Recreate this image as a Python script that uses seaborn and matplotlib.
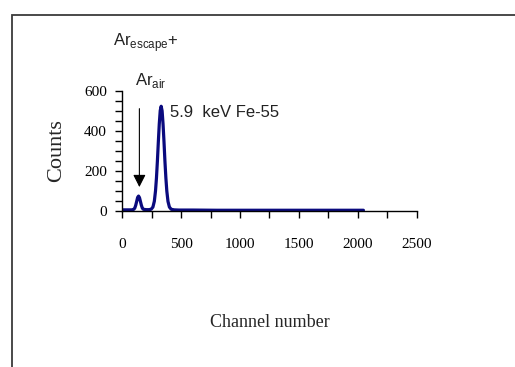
import matplotlib
matplotlib.use("Agg")
import matplotlib.pyplot as plt
from matplotlib.ticker import MultipleLocator
from matplotlib.patches import Rectangle
import pandas as pd
import seaborn as sns

# Fe-55 pulse-height spectrum: channel vs counts
channel = [0, 40, 80, 88, 98, 106, 114, 122, 130, 138, 146, 154, 162, 170,
           178, 188, 205, 225, 245, 260, 272, 282, 290, 298, 306, 314, 322,
           330, 338, 346, 354, 362, 370, 378, 388, 400, 415, 440, 480,
           600, 800, 1000, 1200, 1400, 1600, 1800, 2000, 2048]
counts = [4, 4, 4, 5, 7, 13, 27, 46, 66, 73, 65, 46, 27, 13,
          7, 6, 5, 5, 7, 18, 47, 99, 163, 248, 344, 434, 500,
          522, 499, 433, 345, 247, 164, 98, 46, 18, 7, 4, 3,
          3, 2, 2, 2, 2, 2, 2, 2, 2]

x_ticks = [0, 500, 1000, 1500, 2000, 2500]
y_ticks = [0, 200, 400, 600]

peak_label = "5.9  keV Fe-55"
escape_label = r"Ar$_{\mathregular{escape}}$+"
air_label = r"Ar$_{\mathregular{air}}$"

df = pd.DataFrame({"Channel number": channel, "Counts": counts})

sns.set_style("ticks")
plt.rcParams["font.family"] = ["Liberation Serif", "DejaVu Serif"]

fig = plt.figure(figsize=(5.15, 3.67), dpi=100)
ax = fig.add_axes([0.2375, 0.426, 0.5715, 0.327])

sns.lineplot(data=df, x="Channel number", y="Counts", ax=ax,
             color="#0a0a7e", linewidth=2.3)

ax.set_xlim(0, 2500)
ax.set_ylim(0, 600)
ax.set_xticks(x_ticks)
ax.set_yticks(y_ticks)
ax.xaxis.set_minor_locator(MultipleLocator(250))
ax.yaxis.set_minor_locator(MultipleLocator(50))
ax.tick_params(axis="both", which="both", direction="out", length=5,
               width=1, color="black", labelsize=11, labelcolor="black")
ax.tick_params(axis="x", which="major", pad=15)
ax.tick_params(axis="y", which="major", pad=6)
for side in ("top", "right"):
    ax.spines[side].set_visible(False)
for side in ("left", "bottom"):
    ax.spines[side].set_color("black")
    ax.spines[side].set_linewidth(1)

ax.set_xlabel("Channel number", fontsize=13)
ax.set_ylabel("Counts", fontsize=16)
ax.xaxis.set_label_coords(0.5, -0.86)
ax.yaxis.set_label_coords(-0.19, 0.5)

sans = ["Liberation Sans", "DejaVu Sans"]
ax.text(405, 470, peak_label, fontsize=12, family=sans, color="#222222",
        va="baseline", ha="left")
ax.text(-79, 821, escape_label, fontsize=12, family=sans, color="#222222",
        va="baseline", ha="left", clip_on=False)
ax.text(108, 628, air_label, fontsize=12, family=sans, color="#222222",
        va="baseline", ha="left", clip_on=False)

# arrow pointing at the argon escape / air peak
ax.annotate("", xy=(145, 118), xytext=(145, 510),
            arrowprops=dict(arrowstyle="-|>,head_length=0.75,head_width=0.38",
                            color="black", lw=0.8, shrinkA=0, shrinkB=0))

# outer frame around the figure
fig.add_artist(Rectangle((12 / 515, -0.5), 1.5, 0.5 + (1 - 15 / 367),
                         transform=fig.transFigure, fill=False,
                         edgecolor="#3a3a3a", linewidth=1.3, clip_on=False))

fig.savefig("out.png", dpi=100)
